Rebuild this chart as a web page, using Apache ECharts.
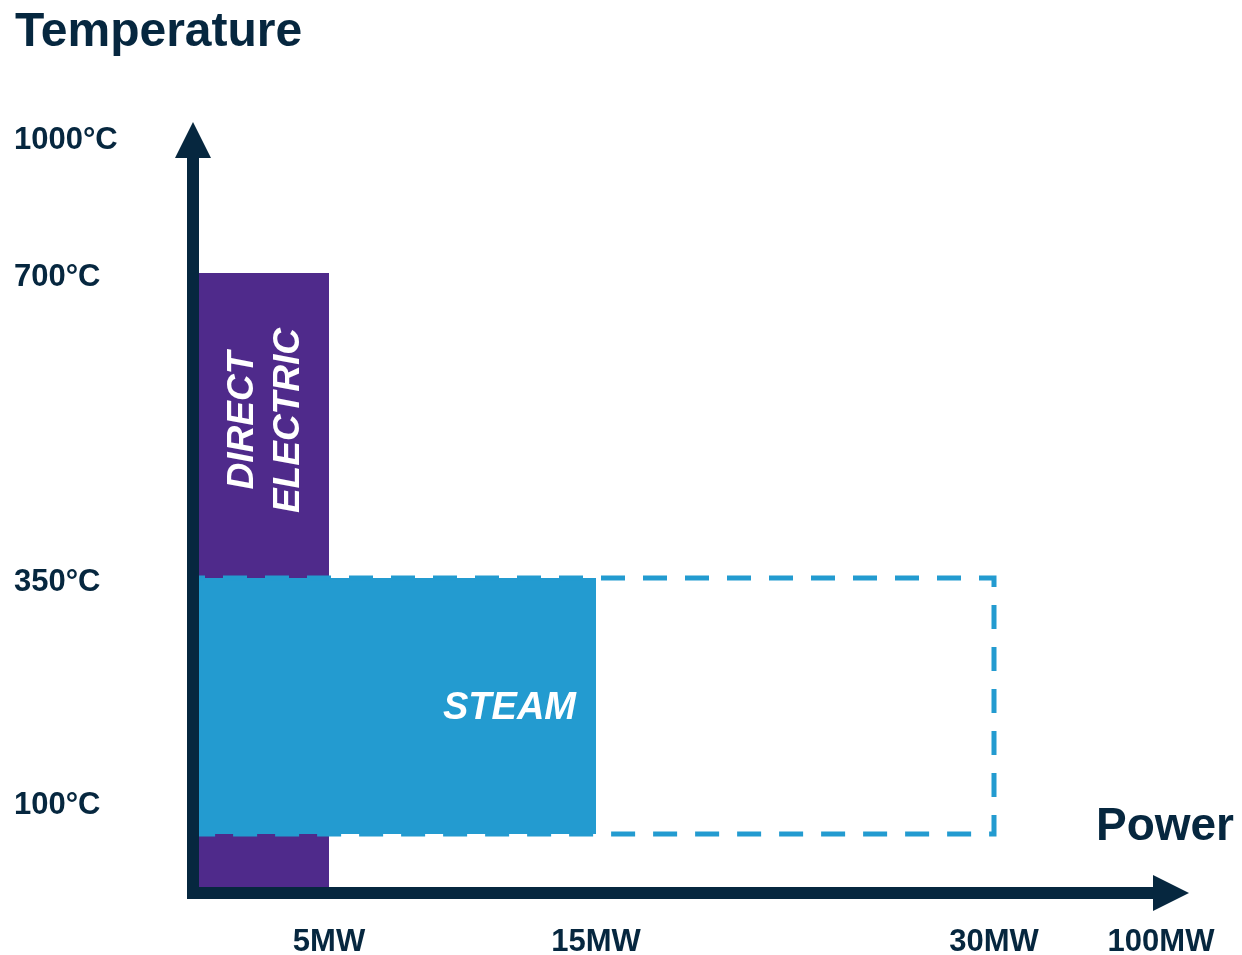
<!DOCTYPE html>
<html>
<head>
<meta charset="utf-8">
<script src="https://cdn.jsdelivr.net/npm/echarts@6/dist/echarts.min.js"></script>
<style>
  html, body { margin: 0; padding: 0; background: #ffffff; }
  #chart { width: 1242px; height: 955px; }
</style>
</head>
<body>
<div id="chart"></div>
<script>
// Power axis ticks (MW) and their labels
const powerTicks = [5, 15, 30, 100];
const powerLabels = ['5MW', '15MW', '30MW', '100MW'];
// Temperature axis ticks (°C) and their labels
const tempTicks = [100, 350, 700, 1000];
const tempLabels = ['100°C', '350°C', '700°C', '1000°C'];

// Operating windows: power range (MW) and temperature range (°C)
const directElectricPower = [0, 5];
const directElectricTemp = [0, 700];
const steamPower = [0, 15];
const steamTemp = [64, 350];
const steamExtendedPower = [0, 30];
const steamExtendedTemp = [64, 350];

// Both axes are schematic: every reference value gets a hand-placed spot
// along its axis (pixels from the origin), linear in between.
const POWER_STOPS = [0, 5, 15, 30, 100];
const POWER_SPOTS = [0, 136, 403, 801, 968];
const POWER_AXIS_LEN = 978;
const TEMP_STOPS = [0, 100, 350, 700, 1000];
const TEMP_SPOTS = [0, 92, 315, 620, 757];
const TEMP_AXIS_LEN = 757;
// temperature labels sit a little below their exact spot
const TEMP_LABEL_NUDGE = 4;

function piecewise(stops, spots, v) {
  for (let i = 1; i < stops.length; i++) {
    if (v <= stops[i] || i === stops.length - 1) {
      const t = (v - stops[i - 1]) / (stops[i] - stops[i - 1]);
      return spots[i - 1] + t * (spots[i] - spots[i - 1]);
    }
  }
  return spots[spots.length - 1];
}
const powerPos = v => piecewise(POWER_STOPS, POWER_SPOTS, v);
const tempPos = v => piecewise(TEMP_STOPS, TEMP_SPOTS, v);
const tempLabelPos = v => tempPos(v) - TEMP_LABEL_NUDGE;

function labelFor(ticks, labels, mapFn) {
  return function (v) {
    let best = 0, bestD = Infinity;
    ticks.forEach((t, i) => {
      const d = Math.abs(mapFn(t) - v);
      if (d < bestD) { bestD = d; best = i; }
    });
    return labels[best];
  };
}

const NAVY = '#06273f';
const PURPLE = '#4f2a8b';
const BLUE = '#239bd0';
const FONT = '"Liberation Sans", Arial, Helvetica, sans-serif';

// One rectangle per operating window, positioned through the axes
function windowSeries(name, power, temp, z, draw) {
  return {
    type: 'custom',
    name: name,
    z: z,
    clip: false,
    silent: true,
    encode: { x: [0, 1], y: [2, 3] },
    data: [[powerPos(power[0]), powerPos(power[1]), tempPos(temp[0]), tempPos(temp[1])]],
    renderItem: function (params, api) {
      const a = api.coord([api.value(0), api.value(3)]);
      const b = api.coord([api.value(1), api.value(2)]);
      const box = { x: a[0], y: a[1], width: b[0] - a[0], height: b[1] - a[1] };
      return { type: 'group', children: draw(box) };
    }
  };
}

const chart = echarts.init(document.getElementById('chart'), null, { renderer: 'canvas' });

chart.setOption({
  backgroundColor: '#ffffff',
  animation: false,
  title: [
    {
      text: 'Temperature',
      left: 15, top: 9, padding: 0,
      textStyle: { fontFamily: FONT, fontSize: 48, fontWeight: 'bold', color: NAVY }
    },
    {
      text: 'Power',
      right: 8, top: 804, padding: 0,
      textStyle: { fontFamily: FONT, fontSize: 46, fontWeight: 'bold', color: NAVY }
    }
  ],
  grid: { left: 193, right: 71, top: 136, bottom: 62, outerBoundsMode: 'none', containLabel: false },
  xAxis: {
    type: 'value',
    min: 0,
    max: POWER_AXIS_LEN,
    z: 10,
    axisLine: {
      show: true,
      onZero: false,
      symbol: ['none', 'triangle'],
      symbolSize: [36, 36],
      lineStyle: { color: NAVY, width: 12, cap: 'square' }
    },
    axisTick: { show: false },
    splitLine: { show: false },
    axisLabel: {
      customValues: powerTicks.map(powerPos),
      formatter: labelFor(powerTicks, powerLabels, powerPos),
      margin: 49,
      verticalAlign: 'middle',
      fontFamily: FONT,
      fontSize: 31,
      fontWeight: 'bold',
      color: NAVY
    }
  },
  yAxis: {
    type: 'value',
    min: 0,
    max: TEMP_AXIS_LEN,
    z: 10,
    axisLine: {
      show: true,
      onZero: false,
      symbol: ['none', 'triangle'],
      symbolSize: [36, 36],
      symbolOffset: [0, -4],
      lineStyle: { color: NAVY, width: 12, cap: 'butt' }
    },
    axisTick: { show: false },
    splitLine: { show: false },
    axisLabel: {
      customValues: tempTicks.map(tempLabelPos),
      formatter: labelFor(tempTicks, tempLabels, tempLabelPos),
      margin: 179,
      align: 'left',
      verticalAlign: 'middle',
      fontFamily: FONT,
      fontSize: 31,
      fontWeight: 'bold',
      color: NAVY
    }
  },
  series: [
    windowSeries('Direct electric', directElectricPower, directElectricTemp, 2, box => [
      { type: 'rect', shape: box, style: { fill: PURPLE } },
      {
        type: 'text',
        x: box.x + box.width / 2 + 5,
        y: box.y + box.height * 0.238,
        rotation: Math.PI / 2,
        style: {
          text: 'DIRECT\nELECTRIC',
          fill: '#ffffff',
          align: 'center',
          verticalAlign: 'middle',
          fontFamily: FONT,
          fontSize: 37,
          fontWeight: 'bold',
          fontStyle: 'italic',
          lineHeight: 46
        }
      }
    ]),
    windowSeries('Steam', steamPower, steamTemp, 3, box => [
      { type: 'rect', shape: box, style: { fill: BLUE } },
      {
        type: 'text',
        x: box.x + box.width - 20,
        y: box.y + box.height / 2 + 2,
        style: {
          text: 'STEAM',
          fill: '#ffffff',
          align: 'right',
          verticalAlign: 'middle',
          fontFamily: FONT,
          fontSize: 38,
          fontWeight: 'bold',
          fontStyle: 'italic'
        }
      }
    ]),
    windowSeries('Steam (extended)', steamExtendedPower, steamExtendedTemp, 4, box => [
      {
        type: 'rect',
        shape: box,
        style: {
          fill: 'none',
          stroke: BLUE,
          lineWidth: 5,
          lineDash: [24, 18],
          lineDashOffset: 12
        }
      }
    ])
  ]
});
</script>
</body>
</html>
